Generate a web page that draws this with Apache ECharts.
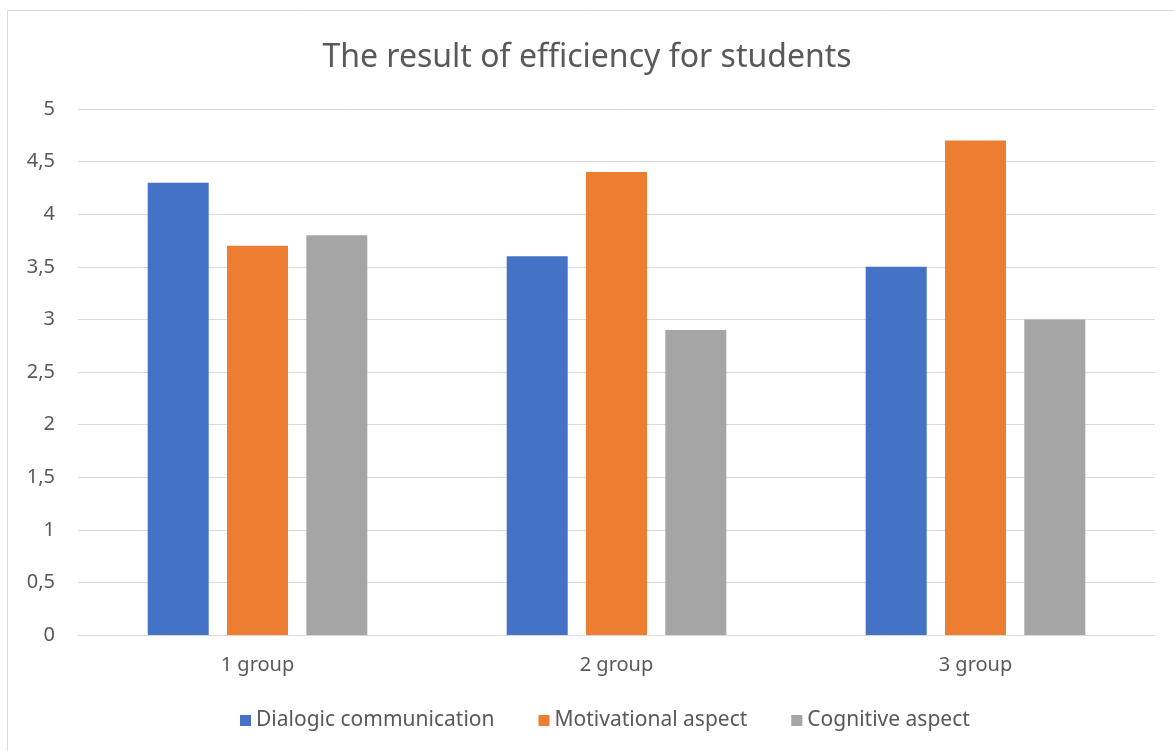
<!DOCTYPE html>
<html><head><meta charset="utf-8">
<script src="https://cdn.jsdelivr.net/npm/echarts@6/dist/echarts.min.js"></script>
<style>html,body{margin:0;padding:0;background:#fff}#c{width:1174px;height:751px}</style>
</head><body><div id="c"></div>
<script>
const categories = ['1 group', '2 group', '3 group'];
const seriesNames = ['Dialogic communication', 'Motivational aspect', 'Cognitive aspect'];
const dialogic = [4.3, 3.6, 3.5];
const motivational = [3.7, 4.4, 4.7];
const cognitive = [3.8, 2.9, 3.0];
const colors = ['#4472C4', '#ED7D31', '#A5A5A5'];
const font = 'Noto Sans';
const chart = echarts.init(document.getElementById('c'));
const mk = (name, data, i) => ({
  name, type: 'bar', data, barWidth: 61, barGap: '30%',
  itemStyle: { color: colors[i] }
});
chart.setOption({
  animation: false,
  title: { text: 'The result of efficiency for students', left: 'center', top: 37,
    textStyle: { fontFamily: font, fontSize: 32, fontWeight: 'normal', color: '#595959' } },
  graphic: [{ type: 'rect', shape: { x: 7.5, y: 10.5, width: 1300, height: 900 },
    style: { fill: 'none', stroke: '#d9d9d9', lineWidth: 1 } }],
  legend: { bottom: 15, left: 235, itemWidth: 11, itemHeight: 11, itemGap: 44,
    icon: 'rect', textStyle: { fontFamily: font, fontSize: 21, color: '#595959' } },
  grid: { left: 78, right: 19, top: 109, bottom: 116 },
  xAxis: { type: 'category', data: categories,
    axisLine: { lineStyle: { color: '#d9d9d9' } }, axisTick: { show: false },
    axisLabel: { fontFamily: font, fontSize: 20, color: '#595959', margin: 20 } },
  yAxis: { type: 'value', min: 0, max: 5, interval: 0.5,
    axisLine: { show: false }, axisTick: { show: false },
    splitLine: { lineStyle: { color: '#d9d9d9' } },
    axisLabel: { fontFamily: font, fontSize: 20, color: '#595959', margin: 23,
      formatter: v => String(v).replace('.', ',') } },
  series: [mk(seriesNames[0], dialogic, 0), mk(seriesNames[1], motivational, 1), mk(seriesNames[2], cognitive, 2)]
});
</script></body></html>
